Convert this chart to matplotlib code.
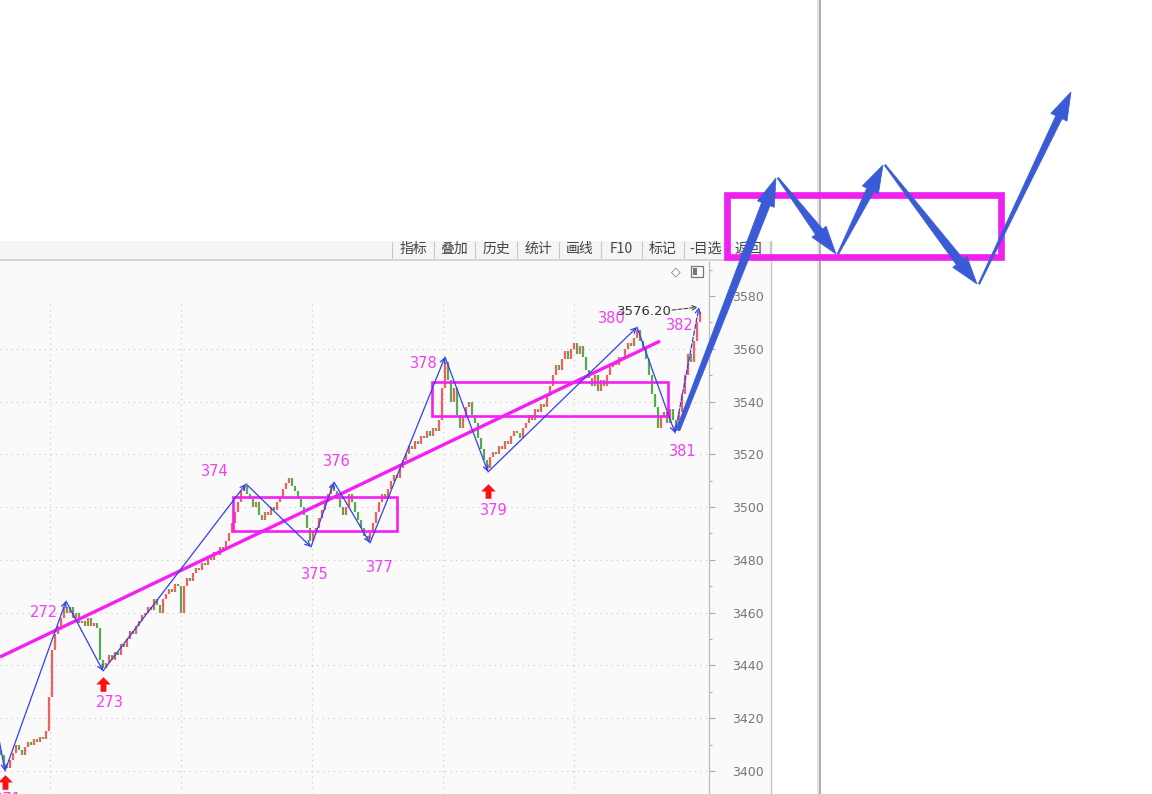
import matplotlib.pyplot as plt
import numpy as np
from matplotlib.patches import Polygon, Rectangle
from matplotlib.path import Path
from matplotlib.ticker import MultipleLocator
from matplotlib.transforms import offset_copy

plt.rcParams["font.family"] = ["DejaVu Sans", "Noto Sans CJK SC"]

W, H = 1152, 794

# closing prices, one per bar (open = previous close)
open0 = 3408
closes = [
    3406, 3402, 3401, 3404, 3407, 3410, 3408, 3406, 3409, 3411,
    3410, 3412, 3411, 3413, 3412, 3415, 3428, 3446, 3452, 3455,
    3458, 3462, 3460, 3462, 3458, 3460, 3456, 3457, 3455, 3458,
    3455, 3456, 3454, 3442, 3439, 3441, 3444, 3442, 3445, 3444,
    3448, 3447, 3450, 3453, 3452, 3455, 3457, 3459, 3460, 3462,
    3461, 3465, 3463, 3460, 3465, 3467, 3469, 3468, 3471, 3470,
    3460, 3470, 3473, 3472, 3475, 3477, 3476, 3479, 3478, 3481,
    3480, 3483, 3482, 3485, 3484, 3487, 3490, 3494, 3498, 3502,
    3506, 3508, 3505, 3503, 3500, 3502, 3497, 3495, 3498, 3497,
    3500, 3499, 3502, 3504, 3507, 3509, 3511, 3508, 3506, 3503,
    3500, 3497, 3492, 3487, 3491, 3492, 3496, 3499, 3502, 3505,
    3508, 3506, 3503, 3500, 3497, 3500, 3505, 3502, 3498, 3495,
    3492, 3489, 3488, 3490, 3494, 3498, 3502, 3505, 3503, 3507,
    3510, 3512, 3511, 3515, 3518, 3520, 3523, 3522, 3525, 3524,
    3527, 3526, 3529, 3527, 3530, 3529, 3533, 3545, 3555, 3548,
    3540, 3545, 3535, 3530, 3534, 3538, 3540, 3535, 3532, 3526,
    3522, 3518, 3515, 3519, 3521, 3520, 3523, 3522, 3525, 3524,
    3527, 3529, 3528, 3526, 3530, 3532, 3535, 3533, 3537, 3536,
    3539, 3538, 3542, 3546, 3550, 3554, 3552, 3556, 3559, 3556,
    3560, 3562, 3558, 3561, 3557, 3552, 3549, 3546, 3550, 3544,
    3548, 3546, 3550, 3553, 3555, 3554, 3557, 3556, 3560, 3562,
    3561, 3564, 3567, 3563, 3560, 3556, 3550, 3543, 3538, 3530,
    3534, 3536, 3532, 3537, 3533, 3529, 3536, 3543, 3550, 3558,
    3555, 3563, 3570, 3574,
]

# zigzag pivots (bar position, price, label)
pivot_idx = [-3, 1.33, 21.67, 34, 81.67, 103.33, 111, 123, 148, 162.33, 212, 224.67, 232.67]
pivot_price = [3426, 3400, 3464.4, 3437.9, 3508.8, 3484.9, 3509.5, 3486.4, 3556.9, 3513.3,
               3568.2, 3528.1, 3575.8]
pivot_label = ["", "271", "272", "273", "374", "375", "376", "377", "378", "379", "380", "381", "382"]
label_dx = [0, 3, -22, 7, -31, 4, 3, 10, -21, 6, -25, 8, -19]
label_dy = [0, -29, -11, -32, 12, -28, 21, -25, -7, -38, 9, -19, -18]
buy_marks = ["271", "273", "379"]
buy_dy = [-11, -13, -19]
peak_value = 3576.20

# trend line and consolidation boxes
trend_idx = [-0.33, 219.67]
trend_price = [3443.2, 3562.9]
box_left = [77.3, 143.7]
box_right = [132.0, 222.3]
box_low = [3490.9, 3534.5]
box_high = [3503.8, 3547.4]

grid_idx = [16.33, 60.0, 103.67, 147.33, 191.0]
price_ticks = list(range(3400, 3600, 20))

# toolbar
tool_names = ["指标", "叠加", "历史", "统计", "画线", "F10", "标记", "-目选", "返回"]
tool_seps = [392, 434, 475, 517, 559, 601, 642, 684, 727, 770]

# hand-drawn projection sketch (screen pixels)
sketch_x = [678, 776, 836, 883, 977, 1071]
sketch_y = [430, 178, 254, 165, 284, 92]
sketch_w0 = [4, 1.5, 1.5, 1.5, 1.5]
sketch_w1 = [9, 9, 8, 9, 7]
big_box = (727, 195, 1001, 257)

RED = "#f2605c"
GREEN = "#58aa50"
PINK = "#f51ef5"
PINK_TXT = "#f23ff2"
BLUE = "#3040ee"
BIG_BLUE = "#3a5bd5"

fig = plt.figure(figsize=(W / 100, H / 100), dpi=100)
fig.patch.set_facecolor("white")

# screen frame
frame = fig.add_axes([0, 0, 1, 1], zorder=0)
frame.set_xlim(0, W)
frame.set_ylim(H, 0)
frame.axis("off")
frame.add_patch(Rectangle((0, 241), 770, 18, fc="#f5f5f5", ec="none"))
frame.add_patch(Rectangle((0, 259), 770, H - 259, fc="#fafafa", ec="none"))
frame.plot([0, 770], [259.5, 259.5], color="#cfcfcf", lw=1.2)
frame.plot([770.5, 770.5], [241, H], color="#c4c4c4", lw=1)
for s in tool_seps:
    frame.plot([s, s], [242, 258], color="#c8c8c8", lw=0.8)
for name, a, b in zip(tool_names, tool_seps[:-1], tool_seps[1:]):
    frame.text((a + b) / 2, 249, name, ha="center", va="center", fontsize=10,
               color="#444444", family=["Noto Sans CJK SC", "DejaVu Sans"])
frame.text(676, 272, "◇", ha="center", va="center", fontsize=9, color="#777777")
frame.add_patch(Rectangle((691, 266), 12, 11, fc="none", ec="#777777", lw=0.9))
frame.add_patch(Rectangle((693, 268), 4, 7, fc="#777777", ec="none"))
# window edge shadow
frame.plot([817.5, 817.5], [0, H], color="#e4e4e4", lw=2)
frame.plot([819.8, 819.8], [0, H], color="#a8a8a8", lw=1.3)

# price chart
ax = fig.add_axes([0, 0, 709 / W, (H - 262) / H], zorder=1)
ax.set_facecolor("none")
ax.set_xlim(-0.33, 236.0)
ax.set_ylim(3391.28, 3592.88)
ax.set_xticks([])
ax.yaxis.tick_right()
ax.set_yticks(price_ticks)
ax.yaxis.set_minor_locator(MultipleLocator(10))
ax.tick_params(axis="y", which="major", length=4.5, width=0.8, color="#aaaaaa",
               labelcolor="#777777", labelsize=9, pad=12)
ax.tick_params(axis="y", which="minor", length=2.5, width=0.8, color="#aaaaaa")
for side in ["top", "left", "bottom"]:
    ax.spines[side].set_visible(False)
ax.spines["right"].set_color("#bbbbbb")
ax.spines["right"].set_linewidth(0.9)

ax.hlines(price_ticks[:-1], -0.33, 236.0, colors="#c8c8c8", lw=0.8,
          linestyles=(0, (1, 4)), zorder=0)
ax.vlines(grid_idx, 3391.28, 3578, colors="#c8c8c8", lw=0.8,
          linestyles=(0, (1, 4)), zorder=0)

c = np.array(closes, float)
o = np.concatenate([[open0], c[:-1]])
x = np.arange(len(c))
up = c > o
ax.vlines(x[up], o[up], c[up], color=RED, lw=1.6, zorder=2)
ax.vlines(x[~up], o[~up], c[~up], color=GREEN, lw=1.6, zorder=2)

ax.plot(trend_idx, trend_price, color=PINK, lw=2.4, solid_capstyle="butt", zorder=3)
for l, r, lo, hi in zip(box_left, box_right, box_low, box_high):
    ax.add_patch(Rectangle((l, lo), r - l, hi - lo, fill=False, ec=PINK, lw=1.9, zorder=3))

n = len(pivot_idx)
for k in range(n - 1):
    ax.annotate("", xy=(pivot_idx[k + 1], pivot_price[k + 1]),
                xytext=(pivot_idx[k], pivot_price[k]),
                arrowprops=dict(arrowstyle="->", color=BLUE, lw=0.9,
                                linestyle="--" if k == n - 2 else "-",
                                shrinkA=0, shrinkB=0, mutation_scale=9),
                zorder=4)

for i, p, lab, dx, dy in zip(pivot_idx, pivot_price, pivot_label, label_dx, label_dy):
    if lab:
        ax.annotate(lab, xy=(i, p), xytext=(dx * 0.72, dy * 0.72), textcoords="offset points",
                    ha="center", va="center", fontsize=10.5, color=PINK_TXT, zorder=5,
                    annotation_clip=False)

arrow_marker = Path([(0, 0.5), (0.5, 0.0), (0.2, 0.0), (0.2, -0.5), (-0.2, -0.5),
                     (-0.2, 0.0), (-0.5, 0.0), (0, 0.5)], closed=True)
for lab, dy in zip(buy_marks, buy_dy):
    k = pivot_label.index(lab)
    tr = offset_copy(ax.transData, fig=fig, x=0, y=dy, units="dots")
    ax.plot(pivot_idx[k], pivot_price[k], marker=arrow_marker, ms=10.5, color="#ff1010",
            mec="none", transform=tr, zorder=5, clip_on=False)

ax.annotate(f"{peak_value:.2f}", xy=(pivot_idx[-1], pivot_price[-1]),
            xytext=(-55 * 0.72, -4 * 0.72), textcoords="offset points",
            ha="center", va="center", fontsize=9.5, color="#333333", zorder=5)
ax.annotate("", xy=(pivot_idx[-1], pivot_price[-1]), xytext=(-27 * 0.72, -3 * 0.72),
            textcoords="offset points",
            arrowprops=dict(arrowstyle="->", color="#444444", lw=0.8, linestyle="--",
                            shrinkA=0, shrinkB=1, mutation_scale=8), zorder=5)

# sketch overlay
top = fig.add_axes([0, 0, 1, 1], zorder=3)
top.set_xlim(0, W)
top.set_ylim(H, 0)
top.axis("off")
top.patch.set_visible(False)

bx0, by0, bx1, by1 = big_box
top.add_patch(Rectangle((bx0, by0), bx1 - bx0, by1 - by0, fill=False, ec="#f020f0", lw=4.8))


def wedge_arrow(axis, p0, p1, w0, w1, hw=18, hl=28):
    p0 = np.array(p0, float)
    p1 = np.array(p1, float)
    d = p1 - p0
    u = d / np.hypot(*d)
    nrm = np.array([-u[1], u[0]])
    base = p1 - u * hl
    verts = [p0 + nrm * w0 / 2, base + nrm * w1 / 2, base + nrm * hw / 2, p1,
             base - nrm * hw / 2, base - nrm * w1 / 2, p0 - nrm * w0 / 2]
    axis.add_patch(Polygon(verts, closed=True, fc=BIG_BLUE, ec=BIG_BLUE, lw=0.5))


for k in range(len(sketch_x) - 1):
    wedge_arrow(top, (sketch_x[k] + (2 if k else 0), sketch_y[k]),
                (sketch_x[k + 1], sketch_y[k + 1]), sketch_w0[k], sketch_w1[k])

fig.savefig("out.png", dpi=100)
